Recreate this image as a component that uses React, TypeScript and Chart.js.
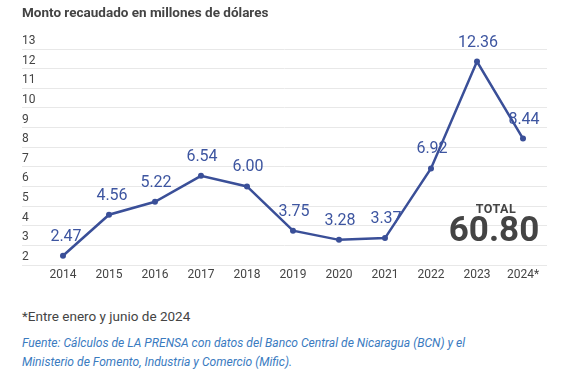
import React, { useEffect, useRef } from "react";
import { Chart, registerables } from "chart.js";

Chart.register(...registerables);

const years = ["2014", "2015", "2016", "2017", "2018", "2019", "2020", "2021", "2022", "2023", "2024*"];
const values = [2.47, 4.56, 5.22, 6.54, 6.0, 3.75, 3.28, 3.37, 6.92, 12.36, 8.44];
const yTicks = [2, 3, 4, 5, 6, 7, 8, 9, 10, 11, 12, 13];
const totalLabel = "TOTAL";
const totalValue = "60.80";

const LINE = "#3a4f98";
const LABEL = "#3d55a0";
const FONT = "Roboto, 'Noto Sans', sans-serif";

const labelPlugin = {
  id: "valueLabels",
  afterDatasetsDraw(chart: any) {
    const ctx = chart.ctx;
    const meta = chart.getDatasetMeta(0);
    ctx.save();
    ctx.font = `16px ${FONT}`;
    ctx.fillStyle = LABEL;
    ctx.textAlign = "center";
    ctx.textBaseline = "middle";
    meta.data.forEach((pt: any, i: number) => {
      ctx.fillText(values[i].toFixed(2), pt.x + (i < 2 ? 3 : 1), pt.y - 19);
    });
    ctx.restore();
  },
};

export default function App() {
  const ref = useRef<HTMLCanvasElement | null>(null);
  useEffect(() => {
    if (!ref.current) return;
    const chart = new Chart(ref.current, {
      type: "line",
      data: {
        datasets: [
          {
            data: values.map((v, i) => ({ x: i, y: v })),
            borderColor: LINE,
            backgroundColor: LINE,
            borderWidth: 2.5,
            pointRadius: 3,
            pointBackgroundColor: LINE,
            pointBorderWidth: 0,
            tension: 0,
          },
        ],
      },
      options: {
        animation: false,
        responsive: false,
        maintainAspectRatio: false,
        layout: { padding: { left: 22, right: 34, top: 49, bottom: 14.6 } },
        plugins: { legend: { display: false }, tooltip: { enabled: false } },
        scales: {
          x: {
            type: "linear",
            min: -0.891,
            max: 10.522,
            grid: { display: false, drawTicks: false },
            border: { display: false },
            afterBuildTicks: (scale: any) => {
              scale.ticks = years.map((_, i) => ({ value: i }));
            },
            ticks: {
              padding: 3,
              autoSkip: false,
              maxRotation: 0,
              color: "#444",
              font: { family: FONT, size: 12 },
              callback: (v: any) => years[v as number] ?? "",
            },
          },
          y: {
            min: 2,
            max: 13,
            afterBuildTicks: (scale: any) => {
              scale.ticks = yTicks.map((v) => ({ value: v }));
            },
            grid: { color: "#e8e8e8", lineWidth: 1, drawTicks: false },
            border: { display: false },
            ticks: {
              mirror: true,
              padding: 0,
              labelOffset: -8,
              color: "#444",
              font: { family: FONT, size: 12 },
            },
          },
        },
      },
      plugins: [labelPlugin],
    } as any);
    return () => chart.destroy();
  }, []);

  return (
    <div style={{ position: "fixed", left: 0, top: 0, width: 581, height: 381, background: "#fff", fontFamily: FONT, overflow: "hidden" }}>
      <canvas ref={ref} width={581} height={300} style={{ position: "absolute", left: 0, top: 0, width: 581, height: 300 }} />
      <div style={{ position: "absolute", left: 22, top: 4, fontSize: 13.5, fontWeight: 700, color: "#444", whiteSpace: "nowrap" }}>
        Monto recaudado en millones de dólares
      </div>
      <div style={{ position: "absolute", left: 446, width: 100, top: 201, textAlign: "center", fontSize: 12.5, fontWeight: 700, color: "#444", letterSpacing: 0.5, lineHeight: "16px" }}>
        {totalLabel}
      </div>
      <div style={{ position: "absolute", left: 444, width: 100, top: 210, textAlign: "center", fontSize: 35, fontWeight: 700, color: "#444", lineHeight: "40px" }}>
        {totalValue}
      </div>
      <div style={{ position: "absolute", left: 22, top: 308, fontSize: 13.5, color: "#444", whiteSpace: "nowrap" }}>
        *Entre enero y junio de 2024
      </div>
      <div style={{ position: "absolute", left: 22, top: 334, fontSize: 12.1, fontStyle: "italic", color: "#3a7bbf", lineHeight: "19px", whiteSpace: "nowrap" }}>
        Fuente: Cálculos de LA PRENSA con datos del Banco Central de Nicaragua (BCN) y el
        <br />
        Ministerio de Fomento, Industria y Comercio (Mific).
      </div>
    </div>
  );
}
